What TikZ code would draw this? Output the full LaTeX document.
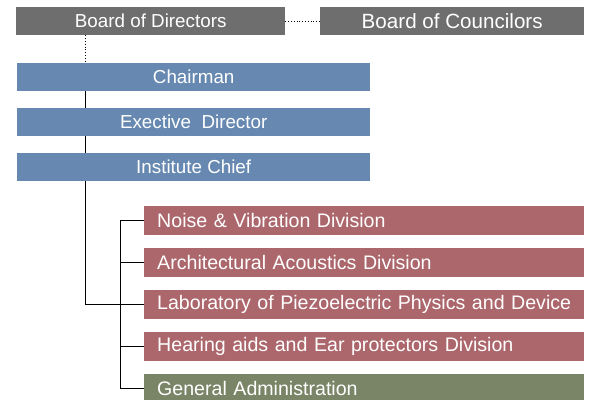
\documentclass[tikz,border=0pt]{standalone}
\usepackage{fontspec}
\setmainfont{Liberation Sans}
\usepackage{xcolor}
\usetikzlibrary{positioning}
\definecolor{boardGray}{HTML}{6E6E6E}
\definecolor{headBlue}{HTML}{6789B1}
\definecolor{divRed}{HTML}{AC676C}
\definecolor{adminGreen}{HTML}{7A8467}
\tikzset{
  link/.style={draw=black, line width=0.8pt},
  dotlink/.style={draw=black, dotted, line width=0.8pt},
  ticklink/.style={draw=black, line width=1.4pt},
  board/.style={rectangle, draw=none, fill=boardGray, text=white, minimum height=28pt, inner sep=0pt, anchor=north west, font=\fontsize{18.8}{20}\selectfont},
  head/.style={rectangle, draw=none, fill=headBlue, text=white, minimum width=353pt, minimum height=28pt, inner sep=0pt, anchor=north west, font=\fontsize{18.8}{20}\selectfont},
  division/.style={rectangle, draw=none, fill=divRed, text=white, text width=414pt, minimum height=28.5pt, inner xsep=13pt, inner ysep=0pt, align=left, anchor=north west, font=\fontsize{19.6}{21}\selectfont},
  admin/.style={division, fill=adminGreen}
}
\begin{document}
\begin{tikzpicture}[x=1pt,y=-1pt]
\useasboundingbox (0,0) rectangle (591,399);
\clip (0,0) rectangle (591,399);

% --------------------------------------------------------------------------
% Boards
% --------------------------------------------------------------------------
\node[board, minimum width=269pt] (bod) at (16,7) {Board of Directors};
\node[board, minimum width=264pt, font=\fontsize{20.6}{22}\selectfont] (boc) at (320,7) {Board of Councilors};
\draw[dotlink] (bod.east) -- (boc.west);

% --------------------------------------------------------------------------
% Executive line
% --------------------------------------------------------------------------
\node[head] (chair) at (17,63) {Chairman};
\node[head] (exec) at (17,108) {Exective\ \ Director};
\node[head] (chief) at (17,153) {Institute Chief};
\coordinate (spine) at (85,0);
\draw[dotlink] (bod.south -| spine) -- (chair.north -| spine);
\draw[link] (chair.south -| spine) -- (exec.north -| spine);
\draw[link] (exec.south -| spine) -- (chief.north -| spine);

% --------------------------------------------------------------------------
% Divisions
% --------------------------------------------------------------------------
\node[division] (noise) at (144,206) {Noise \& Vibration Division};
\node[division] (arch) at (144,248) {Architectural Acoustics Division};
\node[division] (lab) at (144,290) {Laboratory of Piezoelectric Physics and Device};
\node[division] (hear) at (144,332) {Hearing aids and Ear protectors Division};
\node[admin] (gen) at (144,374) {General Administration};
\coordinate (bracket) at (120,0);
\draw[link] (chief.south -| spine) |- (lab.west);
\draw[link] (noise.west) -- (noise.west -| bracket) -- (gen.west -| bracket) -- (gen.west);
\draw[ticklink] (arch.west -| bracket) -- (arch.west);
\draw[ticklink] (hear.west -| bracket) -- (hear.west);

\end{tikzpicture}
\end{document}
